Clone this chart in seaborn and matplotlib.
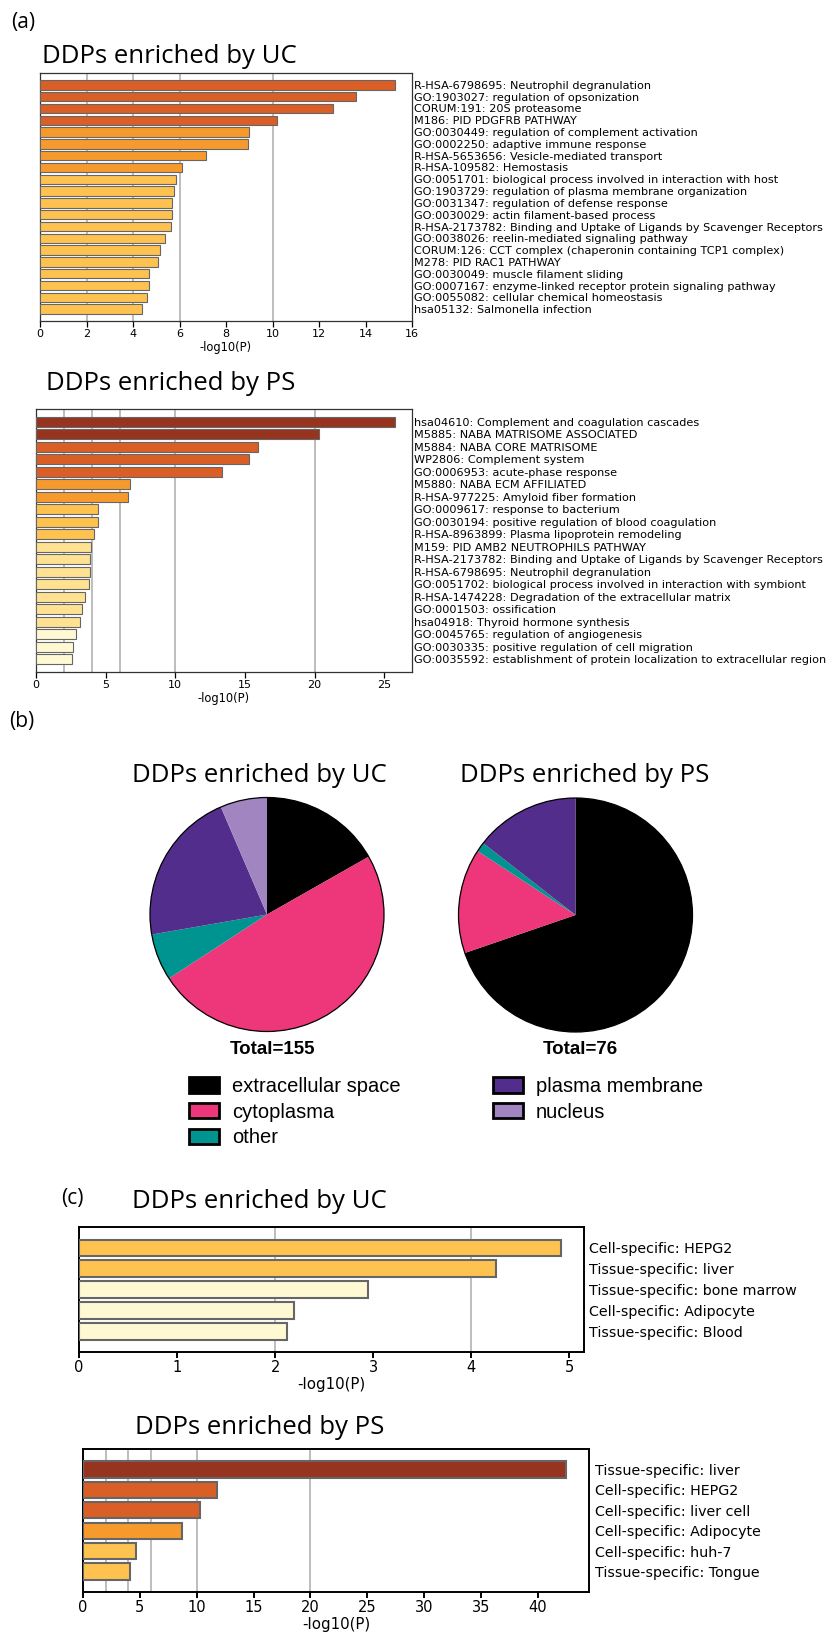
import matplotlib
matplotlib.use("Agg")
import matplotlib.pyplot as plt
from matplotlib.patches import Patch, Circle
import seaborn as sns

# ---- (a) functional enrichment ----
uc_terms = [
    "R-HSA-6798695: Neutrophil degranulation",
    "GO:1903027: regulation of opsonization",
    "CORUM:191: 20S proteasome",
    "M186: PID PDGFRB PATHWAY",
    "GO:0030449: regulation of complement activation",
    "GO:0002250: adaptive immune response",
    "R-HSA-5653656: Vesicle-mediated transport",
    "R-HSA-109582: Hemostasis",
    "GO:0051701: biological process involved in interaction with host",
    "GO:1903729: regulation of plasma membrane organization",
    "GO:0031347: regulation of defense response",
    "GO:0030029: actin filament-based process",
    "R-HSA-2173782: Binding and Uptake of Ligands by Scavenger Receptors",
    "GO:0038026: reelin-mediated signaling pathway",
    "CORUM:126: CCT complex (chaperonin containing TCP1 complex)",
    "M278: PID RAC1 PATHWAY",
    "GO:0030049: muscle filament sliding",
    "GO:0007167: enzyme-linked receptor protein signaling pathway",
    "GO:0055082: cellular chemical homeostasis",
    "hsa05132: Salmonella infection",
]
uc_logp = [15.25, 13.6, 12.6, 10.19, 8.99, 8.96, 7.15, 6.12, 5.86, 5.75,
           5.68, 5.68, 5.65, 5.38, 5.16, 5.09, 4.69, 4.67, 4.60, 4.37]

ps_terms = [
    "hsa04610: Complement and coagulation cascades",
    "M5885: NABA MATRISOME ASSOCIATED",
    "M5884: NABA CORE MATRISOME",
    "WP2806: Complement system",
    "GO:0006953: acute-phase response",
    "M5880: NABA ECM AFFILIATED",
    "R-HSA-977225: Amyloid fiber formation",
    "GO:0009617: response to bacterium",
    "GO:0030194: positive regulation of blood coagulation",
    "R-HSA-8963899: Plasma lipoprotein remodeling",
    "M159: PID AMB2 NEUTROPHILS PATHWAY",
    "R-HSA-2173782: Binding and Uptake of Ligands by Scavenger Receptors",
    "R-HSA-6798695: Neutrophil degranulation",
    "GO:0051702: biological process involved in interaction with symbiont",
    "R-HSA-1474228: Degradation of the extracellular matrix",
    "GO:0001503: ossification",
    "hsa04918: Thyroid hormone synthesis",
    "GO:0045765: regulation of angiogenesis",
    "GO:0030335: positive regulation of cell migration",
    "GO:0035592: establishment of protein localization to extracellular region",
]
ps_logp = [25.79, 20.29, 15.91, 15.26, 13.35, 6.77, 6.60, 4.43, 4.43, 4.16,
           3.92, 3.90, 3.85, 3.78, 3.49, 3.28, 3.13, 2.87, 2.63, 2.58]

# ---- (b) subcellular location ----
loc_labels = ["extracellular space", "cytoplasma", "other", "plasma membrane", "nucleus"]
loc_colors = ["#000000", "#ee367a", "#009490", "#532d8c", "#a085c0"]
uc_counts = [26, 76, 10, 33, 10]
ps_counts = [53, 11, 1, 11, 0]

# ---- (c) tissue / cell specificity ----
tis_uc_terms = ["Cell-specific: HEPG2", "Tissue-specific: liver", "Tissue-specific: bone marrow",
                "Cell-specific: Adipocyte", "Tissue-specific: Blood"]
tis_uc_logp = [4.92, 4.25, 2.95, 2.19, 2.12]
tis_ps_terms = ["Tissue-specific: liver", "Cell-specific: HEPG2", "Cell-specific: liver cell",
                "Cell-specific: Adipocyte", "Cell-specific: huh-7", "Tissue-specific: Tongue"]
tis_ps_logp = [42.5, 11.8, 10.3, 8.68, 4.66, 4.13]

W, H = 827, 1638
TITLE_FONT = "Open Sans"


def bin_color(v):
    # metascape-like p-value bins
    if v >= 20:
        return "#97341f"
    if v >= 10:
        return "#d95f27"
    if v >= 6:
        return "#f79a2e"
    if v >= 4:
        return "#fec250"
    if v >= 3:
        return "#fee292"
    return "#fff9d3"


def px_axes(fig, left, top, right, bottom):
    return fig.add_axes([left / W, 1 - bottom / H, (right - left) / W, (bottom - top) / H])


def enrich_bar(ax, terms, vals, xmax, xticks, edge_lw, lab_fs, tick_fs, spine_lw, spine_col, lab_pad):
    pal = [bin_color(v) for v in vals]
    sns.barplot(x=vals, y=terms, hue=terms, palette=pal, legend=False, orient="h",
                width=0.8, saturation=1, edgecolor="#666666", linewidth=edge_lw, ax=ax, zorder=3)
    for g in [2, 4, 6, 10, 20]:
        if g < xmax:
            ax.axvline(g, color="#bdbdbd", lw=1.4, zorder=0)
    ax.set_xlim(0, xmax)
    ax.set_ylim(len(vals), -1)
    ax.set_xticks(xticks)
    ax.yaxis.tick_right()
    ax.tick_params(axis="y", length=0, pad=lab_pad, labelsize=lab_fs)
    ax.tick_params(axis="x", bottom=True, length=4, width=spine_lw, labelsize=tick_fs, pad=2)
    for s in ax.spines.values():
        s.set_linewidth(spine_lw)
        s.set_color(spine_col)
    ax.set_ylabel("")
    ax.set_xlabel("-log10(P)", fontsize=tick_fs + 0.3, labelpad=1)


sns.set_style("white")
plt.rcParams["font.family"] = ["DejaVu Sans"]
plt.rcParams.update({"text.color": "black", "axes.labelcolor": "black",
                     "xtick.color": "black", "ytick.color": "black"})

fig = plt.figure(figsize=(W / 100, H / 100), dpi=100)

# panel labels and titles
fig.text(11 / W, 1 - 28 / H, "(a)", fontsize=15, family=TITLE_FONT, va="baseline")
fig.text(9 / W, 1 - 727 / H, "(b)", fontsize=15, family=TITLE_FONT, va="baseline")
fig.text(61 / W, 1 - 1204 / H, "(c)", fontsize=15, family=TITLE_FONT, va="baseline")

titles = [
    (42, 63, "DDPs enriched by UC"),
    (46, 390, "DDPs enriched by PS"),
    (132, 782, "DDPs enriched by UC"),
    (460, 782, "DDPs enriched by PS"),
    (132, 1208, "DDPs enriched by UC"),
    (135, 1434, "DDPs enriched by PS"),
]
for x, y, s in titles:
    fig.text(x / W, 1 - y / H, s, fontsize=18.5, family=TITLE_FONT, va="baseline")

# (a)
ax1 = px_axes(fig, 40, 73, 412, 321)
enrich_bar(ax1, uc_terms, uc_logp, 16, range(0, 17, 2), 0.8, 8.1, 8, 0.9, "#333333", 1.5)
ax2 = px_axes(fig, 36, 409, 412, 672)
enrich_bar(ax2, ps_terms, ps_logp, 27, range(0, 26, 5), 0.8, 8.1, 8, 0.9, "#333333", 1.5)

# (b) pies
R = 1.04
for cx, cy, counts, total in [(267, 914.5, uc_counts, 155), (575.5, 915, ps_counts, 76)]:
    r = 117 * R
    ax = px_axes(fig, cx - r, cy - r, cx + r, cy + r)
    ax.pie(counts, colors=loc_colors, startangle=90, counterclock=False,
           wedgeprops=dict(linewidth=0))
    ax.add_patch(Circle((0, 0), 1, fill=False, ec="black", lw=0.9))
    ax.set_xlim(-R, R)
    ax.set_ylim(-R, R)
    ax.set_aspect("auto")
    fig.text(cx / W + 5 / W, 1 - 1054 / H, f"Total={total}", fontsize=13.5, family="Liberation Sans",
             weight="bold", ha="center", va="baseline")

handles = [Patch(facecolor=c, edgecolor="black", lw=2) for c in loc_colors]
fig.legend(handles, loc_labels, loc="upper left", bbox_to_anchor=(189 / W, 1 - 1077 / H),
           ncol=2, frameon=False, borderpad=0, borderaxespad=0,
           prop={"family": "Liberation Sans", "size": 14.5},
           handlelength=1.5, handleheight=0.8, handletextpad=0.65,
           columnspacing=4.55, labelspacing=0.33)

# (c)
ax3 = px_axes(fig, 79, 1227, 584, 1352)
enrich_bar(ax3, tis_uc_terms, tis_uc_logp, 5.15, range(0, 6), 1.5, 10.3, 10.5, 1.4, "black", 3.5)
ax4 = px_axes(fig, 83, 1449, 589, 1592)
enrich_bar(ax4, tis_ps_terms, tis_ps_logp, 44.5, range(0, 41, 5), 1.5, 10.3, 10.5, 1.4, "black", 4.5)

fig.savefig("out.png", dpi=100)
